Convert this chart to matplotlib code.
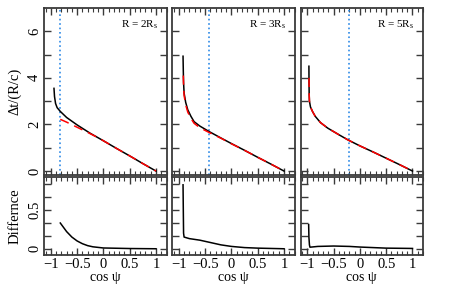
import matplotlib
matplotlib.use("Agg")
import matplotlib.pyplot as plt
from matplotlib.ticker import MultipleLocator, FuncFormatter

plt.rcParams['font.family'] = ['Liberation Serif', 'DejaVu Serif']
plt.rcParams['mathtext.fontset'] = 'custom'
plt.rcParams['mathtext.rm'] = 'Liberation Serif'
plt.rcParams['mathtext.it'] = 'Liberation Serif:italic'

# panel labels and critical cos(psi) marked by the dotted line
labels = ["R = 2R$_\\mathrm{s}$", "R = 3R$_\\mathrm{s}$", "R = 5R$_\\mathrm{s}$"]
crit = [-0.82, -0.42, -0.21]

# exact delay (black)
x_ex2 = [-0.94, -0.93, -0.91, -0.88, -0.82, -0.7, -0.5, -0.25, 0.0, 0.25, 0.5, 0.75, 1.0]
y_ex2 = [3.55, 3.2, 2.9, 2.72, 2.56, 2.3, 1.98, 1.62, 1.3, 0.97, 0.65, 0.32, 0.0]
x_ex3 = [-0.92, -0.915, -0.91, -0.9, -0.87, -0.83, -0.77, -0.71, -0.6, -0.42, -0.2, 0.0, 0.25, 0.5, 0.75, 1.0]
y_ex3 = [4.93, 4.3, 3.8, 3.35, 2.95, 2.63, 2.35, 2.12, 1.93, 1.69, 1.42, 1.18, 0.89, 0.59, 0.3, 0.0]
x_ex5 = [-0.97, -0.968, -0.965, -0.96, -0.94, -0.9, -0.85, -0.75, -0.61, -0.4, -0.23, 0.0, 0.25, 0.5, 0.75, 1.0]
y_ex5 = [4.5, 3.8, 3.3, 3.0, 2.75, 2.55, 2.35, 2.08, 1.84, 1.56, 1.34, 1.08, 0.82, 0.55, 0.28, 0.0]

# approximation (red dashed)
x_ap2 = [-0.82, -0.7, -0.5, -0.3, -0.1, 0.0, 0.25, 0.5, 0.75, 1.0]
y_ap2 = [2.22, 2.1, 1.88, 1.66, 1.43, 1.3, 0.97, 0.65, 0.32, 0.0]
x_ap3 = [-0.915, -0.91, -0.9, -0.87, -0.83, -0.77, -0.71, -0.6, -0.42, -0.2, 0.0, 0.25, 0.5, 0.75, 1.0]
y_ap3 = [4.1, 3.7, 3.25, 2.85, 2.53, 2.26, 2.05, 1.86, 1.65, 1.41, 1.17, 0.89, 0.59, 0.3, 0.0]
x_ap5 = [-0.968, -0.965, -0.96, -0.94, -0.9, -0.85, -0.75, -0.61, -0.4, -0.23, 0.0, 0.25, 0.5, 0.75, 1.0]
y_ap5 = [4.0, 3.3, 3.0, 2.75, 2.55, 2.35, 2.08, 1.84, 1.56, 1.34, 1.08, 0.82, 0.55, 0.28, 0.0]

# difference
x_d2 = [-0.82, -0.7, -0.6, -0.5, -0.4, -0.3, -0.2, 0.0, 0.5, 1.0]
y_d2 = [0.33, 0.22, 0.15, 0.1, 0.065, 0.04, 0.025, 0.01, 0.003, 0.0]
x_d3 = [-0.92, -0.915, -0.91, -0.9, -0.8, -0.6, -0.4, -0.2, 0.0, 0.25, 0.5, 1.0]
y_d3 = [0.82, 0.5, 0.2, 0.15, 0.13, 0.11, 0.08, 0.05, 0.03, 0.015, 0.008, 0.0]
x_d5 = [-0.975, -0.97, -0.96, -0.95, -0.8, -0.5, -0.2, 0.0, 0.5, 1.0]
y_d5 = [0.31, 0.15, 0.05, 0.02, 0.03, 0.035, 0.03, 0.022, 0.008, 0.004]

exact = [(x_ex2, y_ex2), (x_ex3, y_ex3), (x_ex5, y_ex5)]
approx = [(x_ap2, y_ap2), (x_ap3, y_ap3), (x_ap5, y_ap5)]
diff = [(x_d2, y_d2), (x_d3, y_d3), (x_d5, y_d5)]

W, H = 472, 286
fig = plt.figure(figsize=(W / 100, H / 100), dpi=100)

lefts = [44, 172, 300.5]
pw = 122.5
frame = '#3a3a3a'


def minus(v, pos):
    if abs(v - round(v)) < 1e-9:
        s = "%d" % round(v)
    else:
        s = "%g" % v
    return s.replace('-', '\u2212')


def style(ax):
    for sp in ax.spines.values():
        sp.set_color(frame)
        sp.set_linewidth(1.3)
    ax.set_xlim(-1.13, 1.2)
    ax.xaxis.set_major_locator(MultipleLocator(0.5))
    ax.xaxis.set_minor_locator(MultipleLocator(0.1))
    ax.tick_params(which='both', direction='in', top=True, right=True,
                   color=frame, labelsize=10.5, pad=2)
    ax.tick_params(which='major', length=5, width=1)
    ax.tick_params(which='minor', length=3, width=0.8)
    ax.tick_params(axis='y', which='minor', left=False, right=False)


for i in range(3):
    ax = fig.add_axes([lefts[i] / W, 1 - 175 / H, pw / W, 167 / H])
    style(ax)
    ax.set_ylim(-0.17, 7.0)
    ax.set_yticks(range(0, 7))
    ax.axvline(crit[i], color='#2e8ae6', ls=':', lw=1.2)
    ax.plot(*exact[i], color='black', lw=1.1)
    ax.plot(*approx[i], color='red', lw=1.1, dashes=(6, 4))
    ax.text(0.93, 0.9, labels[i], transform=ax.transAxes, ha='right',
            va='center', fontsize=8)
    ax.tick_params(labelbottom=False)
    if i == 0:
        ax.set_yticklabels(['0', '', '2', '', '4', '', '6'], rotation=90,
                           va='center')
        ax.set_ylabel("\u0394t/(R/c)", fontsize=10.5, labelpad=5)
    else:
        ax.tick_params(labelleft=False)

    bx = fig.add_axes([lefts[i] / W, 1 - 255 / H, pw / W, 78 / H])
    style(bx)
    bx.set_ylim(-0.08, 0.92)
    bx.yaxis.set_major_locator(MultipleLocator(1 / 6))
    bx.plot(*diff[i], color='black', lw=1.1)
    bx.xaxis.set_major_formatter(FuncFormatter(minus))
    bx.set_xlabel("cos \u03c8", fontsize=10, labelpad=0)
    if i == 0:
        bx.set_yticks([0, 1 / 6, 2 / 6, 0.5, 4 / 6, 5 / 6])
        bx.set_yticklabels(['0', '', '', '0.5', '', ''], rotation=90,
                           va='center')
        bx.set_ylabel("Differnce", fontsize=10.5, labelpad=5)
    else:
        bx.tick_params(labelleft=False)

fig.savefig("out.png", dpi=100)
